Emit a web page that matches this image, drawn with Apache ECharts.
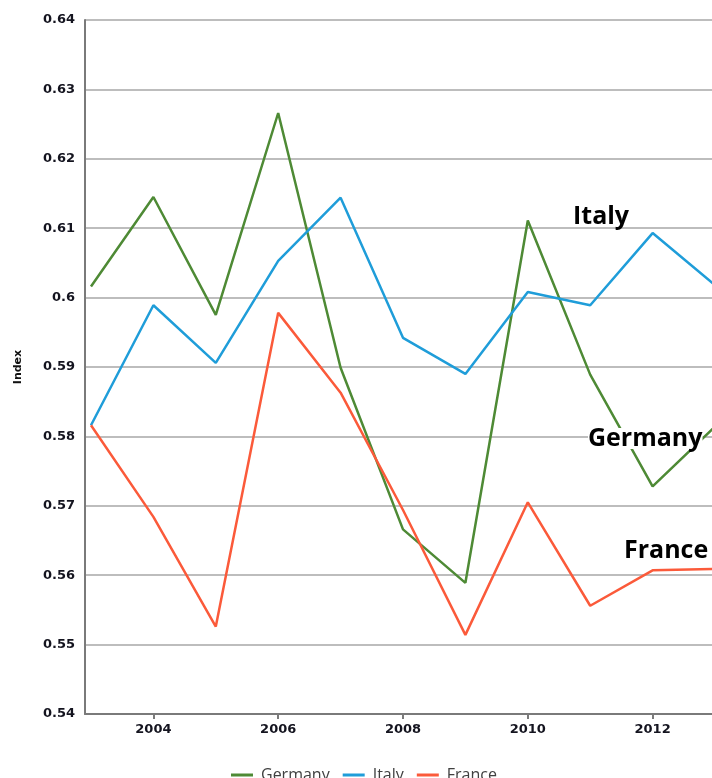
<!DOCTYPE html>
<html>
<head>
<meta charset="utf-8">
<script src="https://cdn.jsdelivr.net/npm/echarts@6/dist/echarts.min.js"></script>
<style>
  html, body { margin: 0; padding: 0; background: #ffffff; }
  #chart { width: 712px; height: 778px; }
</style>
</head>
<body>
<div id="chart"></div>
<script>
// Index values by year, 2003-2013
const years = [2003, 2004, 2005, 2006, 2007, 2008, 2009, 2010, 2011, 2012, 2013];
const germany = [0.6016, 0.6145, 0.5975, 0.6266, 0.5899, 0.5666, 0.5589, 0.6111, 0.5889, 0.5728, 0.5814];
const italy   = [0.5816, 0.5989, 0.5906, 0.6053, 0.6144, 0.5942, 0.5890, 0.6008, 0.5989, 0.6093, 0.6018];
const france  = [0.5816, 0.5684, 0.5526, 0.5978, 0.5863, 0.5694, 0.5514, 0.5705, 0.5556, 0.5607, 0.5609];
const yearTicks = [2004, 2006, 2008, 2010, 2012];
const seriesNames = ['Germany', 'Italy', 'France'];

const pairs = vals => years.map((y, i) => [y, vals[i]]);

const axisGrey = '#7a7a7a';
const labelFont = { fontFamily: 'DejaVu Sans', fontWeight: 'bold', fontSize: 13, color: '#14141f' };
const calloutFont = '700 25px "Open Sans"';

const chart = echarts.init(document.getElementById('chart'), null, { renderer: 'canvas' });

chart.setOption({
  animation: false,
  backgroundColor: '#ffffff',
  grid: { left: 85, right: -9, top: 20, bottom: 64, containLabel: false, outerBoundsMode: 'none' },
  xAxis: {
    type: 'value',
    min: 2002.904,
    max: 2013.096,
    axisLine: { show: true, lineStyle: { color: axisGrey, width: 2 } },
    axisTick: { show: true, customValues: yearTicks, length: 5, lineStyle: { color: axisGrey, width: 2 } },
    axisLabel: { customValues: yearTicks, margin: 9, ...labelFont, formatter: v => String(v) },
    splitLine: { show: false }
  },
  yAxis: {
    type: 'value',
    min: 0.54,
    max: 0.64,
    interval: 0.01,
    name: 'Index',
    nameLocation: 'middle',
    nameGap: 61,
    nameTextStyle: { fontFamily: 'DejaVu Sans', fontWeight: 'bold', fontSize: 11, color: '#111111' },
    axisLine: { show: true, lineStyle: { color: axisGrey, width: 2 } },
    axisTick: { show: false },
    axisLabel: { margin: 10, ...labelFont, formatter: v => String(+v.toFixed(2)) },
    splitLine: { show: true, lineStyle: { color: '#bdbdbd', width: 2 } }
  },
  legend: {
    data: seriesNames,
    left: 226,
    top: 762,
    icon: 'rect',
    itemWidth: 22,
    itemHeight: 3,
    itemGap: 13,
    textStyle: { fontFamily: 'Open Sans', fontSize: 16, color: '#404040', padding: [0, 0, 0, 3] }
  },
  series: [
    { name: 'Germany', type: 'line', data: pairs(germany), symbol: 'none', color: '#4e8a35', lineStyle: { width: 2.5, color: '#4e8a35' } },
    { name: 'Italy', type: 'line', data: pairs(italy), symbol: 'none', color: '#1f9dd9', lineStyle: { width: 2.5, color: '#1f9dd9' } },
    { name: 'France', type: 'line', data: pairs(france), symbol: 'none', color: '#fb5a3a', lineStyle: { width: 2.5, color: '#fb5a3a' } }
  ],
  graphic: [
    { type: 'text', left: 573, top: 204, z: 100, style: { text: 'Italy', font: calloutFont, fill: '#000000' } },
    { type: 'text', left: 588, top: 426, z: 100, style: { text: 'Germany', font: calloutFont, lineHeight: 21, fill: '#000000', backgroundColor: '#ffffff' } },
    { type: 'text', left: 624, top: 538, z: 100, style: { text: 'France', font: calloutFont, fill: '#000000' } }
  ]
});
</script>
</body>
</html>
